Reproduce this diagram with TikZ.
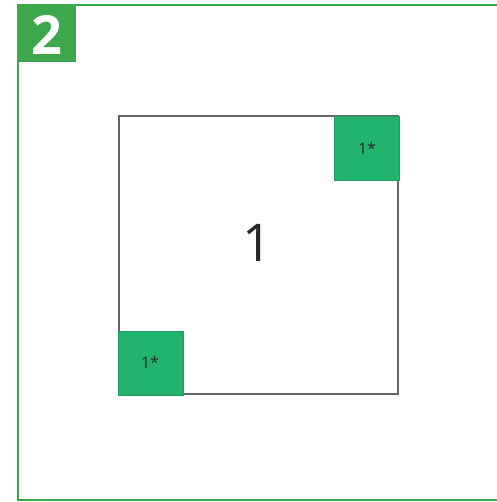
\documentclass[tikz,border=0pt]{standalone}
\usepackage{fontspec}
\setmainfont{Open Sans}
\definecolor{frameGreen}{RGB}{61,168,75}
\definecolor{boxGreen}{RGB}{34,180,108}
\definecolor{boxEdge}{RGB}{30,160,95}
\definecolor{sqGray}{RGB}{100,100,100}
\definecolor{txtGray}{RGB}{40,40,40}
\tikzset{
  frameline/.style={draw=frameGreen, line width=2.2pt},
  gbox/.style={fill=boxGreen, draw=boxEdge, line width=0.8pt},
  small/.style={text=txtGray, font=\fontsize{16}{18}\selectfont},
}
\begin{document}
\begin{tikzpicture}[x=1pt,y=-1pt]
\useasboundingbox (0,0) rectangle (496,502);
\fill[white] (0,0) rectangle (496,502);
% outer frame
\coordinate (ftr) at (498,5);
\coordinate (ftl) at (18,5);
\coordinate (fbl) at (18,500);
\coordinate (fbr) at (498,500);
\draw[frameline] (ftr) -- (ftl) -- (fbl) -- (fbr);
% label box
\fill[frameGreen] (17,4) rectangle (76,62);
\node[text=white, font=\fontsize{54}{54}\selectfont\bfseries] (lab) at (46.5,35) {2};
% main square
\draw[sqGray, line width=2.2pt] (119,116) rectangle (398,394);
\node[text=txtGray, font=\fontsize{52}{52}\selectfont] (one) at (257,243) {1};
% green corner boxes
\filldraw[gbox] (334,116) rectangle (399,180);
\node[small] (tr) at (367,148) {1*};
\filldraw[gbox] (118,331) rectangle (183,395);
\node[small] (bl) at (150,362) {1*};
\end{tikzpicture}
\end{document}
